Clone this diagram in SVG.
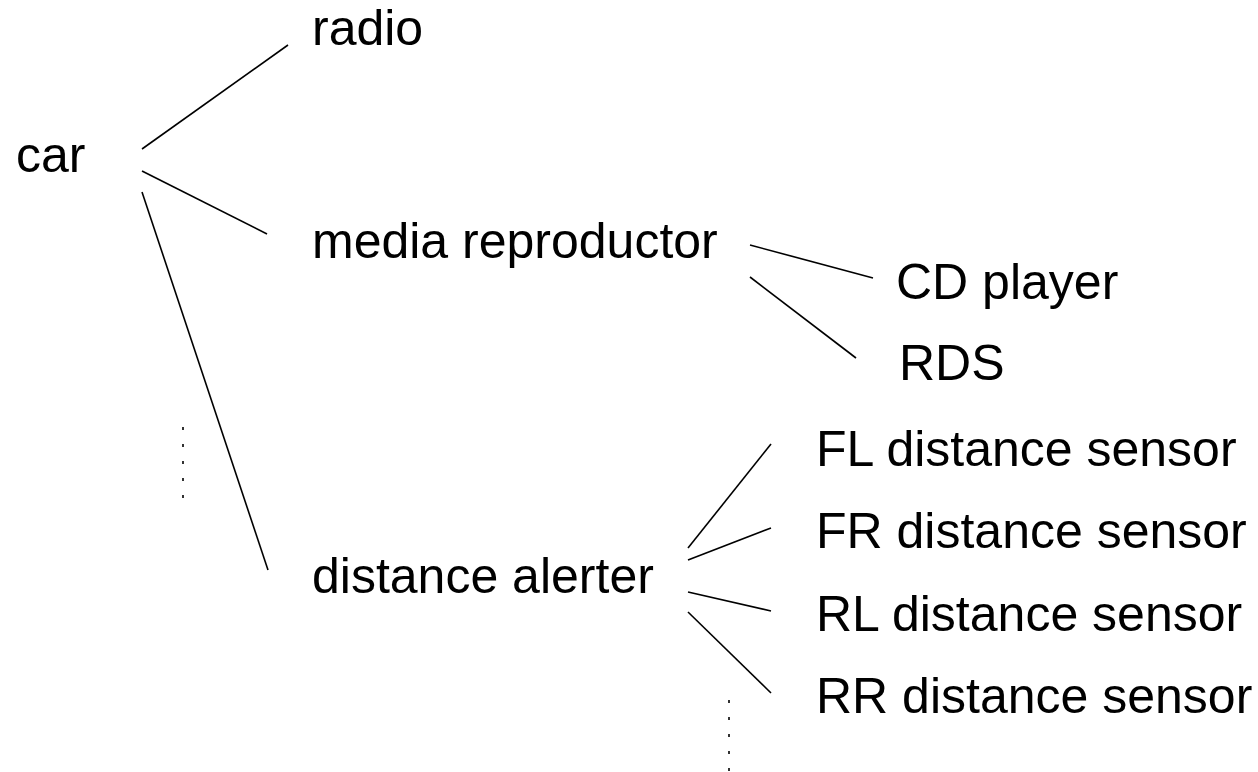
<svg xmlns="http://www.w3.org/2000/svg" width="1258" height="772" viewBox="0 0 1258 772">
<style>
text{font-family:"Liberation Sans",Arial,sans-serif;font-size:50px;fill:#000}
.c line{stroke:#000;stroke-width:1.6;fill:none}
.d{stroke:#000;stroke-width:1.6;stroke-dasharray:3 14;fill:none}
</style>
<rect width="1258" height="772" fill="#fff"/>
<g id="car"><text x="16" y="172">car</text></g>
<g id="radio"><text x="312" y="45">radio</text></g>
<g id="media"><text x="312" y="258">media reproductor</text></g>
<g id="cd"><text x="896" y="299">CD player</text></g>
<g id="rds"><text x="899" y="380">RDS</text></g>
<g id="alerter"><text x="312" y="593">distance alerter</text></g>
<g id="fl"><text x="816" y="466">FL distance sensor</text></g>
<g id="fr"><text x="816" y="548">FR distance sensor</text></g>
<g id="rl"><text x="816" y="631">RL distance sensor</text></g>
<g id="rr"><text x="816" y="713">RR distance sensor</text></g>
<g class="c" id="connectors">
<line x1="142" y1="149" x2="288" y2="45"/>
<line x1="142" y1="171" x2="267" y2="234"/>
<line x1="142" y1="192" x2="268" y2="570"/>
<line x1="750" y1="245" x2="873" y2="278"/>
<line x1="750" y1="277" x2="856" y2="358"/>
<line x1="688" y1="548" x2="771" y2="444"/>
<line x1="688" y1="560" x2="771" y2="528"/>
<line x1="688" y1="592" x2="771" y2="611"/>
<line x1="688" y1="612" x2="771" y2="693"/>
<line class="d" x1="183" y1="427" x2="183" y2="500"/>
<line class="d" x1="729" y1="700" x2="729" y2="772"/>
</g>
</svg>
